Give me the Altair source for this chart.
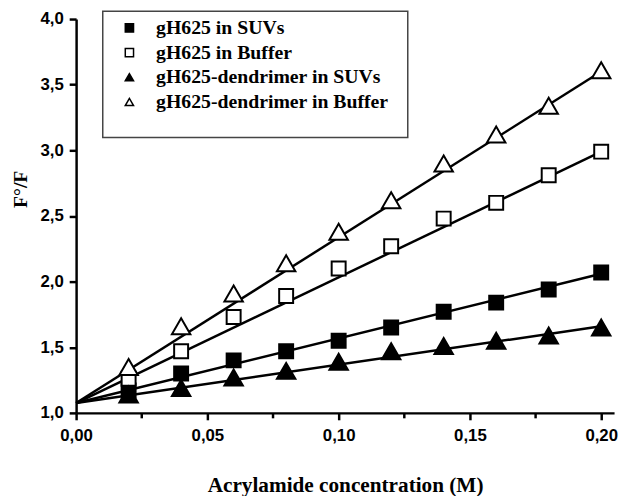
import altair as alt
import pandas as pd

series = ["gH625 in SUVs", "gH625 in Buffer", "gH625-dendrimer in SUVs", "gH625-dendrimer in Buffer"]
conc = [0.02, 0.04, 0.06, 0.08, 0.10, 0.12, 0.14, 0.16, 0.18, 0.20]
suv = [1.17, 1.30, 1.40, 1.47, 1.55, 1.65, 1.77, 1.84, 1.94, 2.07]
buffer = [1.26, 1.47, 1.73, 1.89, 2.10, 2.27, 2.48, 2.60, 2.81, 2.99]
dend_suv = [1.14, 1.19, 1.27, 1.32, 1.39, 1.47, 1.51, 1.55, 1.59, 1.65]
dend_buffer = [1.35, 1.66, 1.91, 2.14, 2.38, 2.62, 2.90, 3.12, 3.34, 3.61]

fit_x = [0.0, 0.20]
fit_start = [1.075, 1.075, 1.075, 1.075]
fit_end = [2.06, 2.99, 1.66, 3.60]

x_ticks = [0.0, 0.025, 0.05, 0.075, 0.10, 0.125, 0.15, 0.175, 0.20]
y_ticks = [1.0, 1.25, 1.5, 1.75, 2.0, 2.25, 2.5, 2.75, 3.0, 3.25, 3.5, 3.75, 4.0]

rows = []
for s, vals in zip(series, [suv, buffer, dend_suv, dend_buffer]):
    for c, v in zip(conc, vals):
        rows.append({"series": s, "x": c, "y": v})
pts = pd.DataFrame(rows)

lrows = []
for s, a, b in zip(series, fit_start, fit_end):
    lrows.append({"series": s, "x": fit_x[0], "y": a})
    lrows.append({"series": s, "x": fit_x[1], "y": b})
lines_df = pd.DataFrame(lrows)

W, H = 545, 399

xscale = alt.Scale(domain=[0, 0.2049], nice=False, zero=False)
yscale = alt.Scale(domain=[1.0, 4.0], nice=False, zero=False)

xaxis = alt.Axis(
    values=x_ticks,
    title="Acrylamide concentration (M)",
    labelExpr="round(datum.value*100) % 5 == 0 ? replace(format(datum.value, '.2f'), '.', ',') : ''",
    tickSize={"condition": {"test": "round(datum.value*100) % 5 == 0", "value": 7}, "value": 5},
    grid=False,
    labelFont="Liberation Sans", labelFontWeight="bold", labelFontSize=17, labelColor="black",
    labelPadding=8, labelFlush=False, labelOverlap=False,
    titleFont="Liberation Serif", titleFontWeight="bold", titleFontSize=21.5, titleColor="black",
    titlePadding=32,
    domainColor="black", domainWidth=2.5, tickColor="black", tickWidth=2.5,
)
yaxis = alt.Axis(
    values=y_ticks,
    title="F°/F",
    labelExpr="round(datum.value*4) % 2 == 0 ? replace(format(datum.value, '.1f'), '.', ',') : ''",
    tickSize={"condition": {"test": "round(datum.value*4) % 2 == 0", "value": 7}, "value": 5},
    grid=False,
    labelFont="Liberation Sans", labelFontWeight="bold", labelFontSize=17, labelColor="black",
    labelPadding=6, labelFlush=False, labelOverlap=False,
    titleFont="Liberation Serif", titleFontWeight="bold", titleFontSize=20, titleColor="black",
    titlePadding=10, titleY=172,
    domainColor="black", domainWidth=2.5, tickColor="black", tickWidth=2.5,
)

lines = alt.Chart(lines_df).mark_line(color="black", strokeWidth=2.5).encode(
    x=alt.X("x:Q", scale=xscale, axis=xaxis),
    y=alt.Y("y:Q", scale=yscale, axis=yaxis),
    detail="series:N",
)

box = alt.Chart(alt.Data(values=[{}])).mark_rect(
    fill="white", stroke="#444444", strokeWidth=1.5
).encode(
    x=alt.value(27), x2=alt.value(336), y=alt.value(-8), y2=alt.value(120)
)

leg = alt.Legend(
    title=None, orient="none", legendX=44, legendY=-1,
    labelFont="Liberation Serif", labelFontWeight="bold", labelFontSize=20,
    labelColor="black", labelOffset=17, rowPadding=5, padding=0, labelLimit=500,
    symbolSize=70, symbolStrokeWidth=1.5,
)

shape_enc = alt.Shape("series:N", scale=alt.Scale(domain=series, range=["square", "square", "triangle-up", "triangle-up"]), legend=leg)
fill_enc = alt.Fill("series:N", scale=alt.Scale(domain=series, range=["black", "white", "black", "white"]), legend=leg)
stroke_enc = alt.Stroke("series:N", scale=alt.Scale(domain=series, range=["#000000", "#000000", "#000000", "#000000"]), legend=leg)

squares = alt.Chart(pts).transform_filter(
    alt.FieldOneOfPredicate(field="series", oneOf=series[:2])
).mark_point(filled=True, strokeWidth=2, opacity=1, size=200).encode(
    x=alt.X("x:Q", scale=xscale),
    y=alt.Y("y:Q", scale=yscale),
    shape=shape_enc,
    fill=fill_enc,
    stroke=stroke_enc,
)

triangles = alt.Chart(pts).transform_filter(
    alt.FieldOneOfPredicate(field="series", oneOf=series[2:])
).mark_point(filled=True, strokeWidth=2, opacity=1, size=350).encode(
    x=alt.X("x:Q", scale=xscale),
    y=alt.Y("y:Q", scale=yscale),
    shape=shape_enc,
    fill=fill_enc,
    stroke=stroke_enc,
)

chart = alt.layer(box, lines, squares, triangles).properties(
    width=W, height=H,
    autosize=alt.AutoSizeParams(type="none"),
    padding={"left": 69, "top": 8, "right": 5, "bottom": 81},
    background="white",
).configure_view(stroke=None)

chart.save("out.html", embed_options={"renderer": "svg", "actions": False})
